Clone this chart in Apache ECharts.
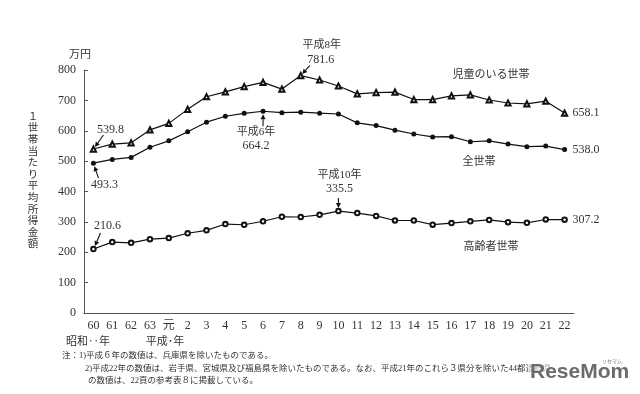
<!DOCTYPE html>
<html>
<head>
<meta charset="utf-8">
<script src="https://cdn.jsdelivr.net/npm/echarts@6/dist/echarts.min.js"></script>
<style>html,body{margin:0;padding:0;background:#fff;}#c{width:640px;height:394px;}</style>
</head>
<body>
<div id="c"></div>
<script>
const categories = ['60','61','62','63','元','2','3','4','5','6','7','8','9','10','11','12','13','14','15','16','17','18','19','20','21','22'];
const childValues = [539.8,556.0,560.2,602.8,624.3,670.4,712.0,728.0,745.5,759.4,737.2,781.6,767.1,747.4,721.4,725.8,727.2,702.7,702.6,714.9,718.0,701.2,691.4,688.5,697.3,658.1];
const allValues = [493.3,505.6,512.3,545.8,566.7,596.6,628.2,647.8,657.5,664.2,659.6,661.2,657.7,655.2,626.0,616.9,602.0,589.3,579.7,580.4,563.8,566.8,556.2,547.5,549.6,538.0];
const elderlyValues = [210.6,233.4,231.0,243.0,246.7,262.5,272.1,292.9,290.5,302.0,316.9,316.0,323.1,335.5,328.9,319.5,304.6,304.6,290.9,296.1,301.9,306.3,298.9,297.0,307.9,307.2];
const seriesNames = ['児童のいる世帯','全世帯','高齢者世帯'];
const yTicks = {min:0, max:800, interval:100};

const FONT = '"Liberation Serif", "Noto Sans CJK JP", serif';
const TXT = '#333';
const chart = echarts.init(document.getElementById('c'), null, {renderer:'canvas'});

const lineStyle = {color:'#111', width:1.2};
chart.setOption({
  backgroundColor:'#fff',
  animation:false,
  grid:{left:84, right:66, top:70, bottom:81, containLabel:false},
  xAxis:{
    type:'category', data:categories, boundaryGap:true,
    axisLine:{lineStyle:{color:'#555', width:1}},
    axisTick:{inside:true, length:4, lineStyle:{color:'#555'}},
    axisLabel:{color:TXT, fontFamily:FONT, fontSize:12, margin:7, interval:0}
  },
  yAxis:{
    type:'value', min:yTicks.min, max:yTicks.max, interval:yTicks.interval,
    splitLine:{show:false},
    axisLine:{show:true, lineStyle:{color:'#555', width:1}},
    axisTick:{show:true, inside:true, length:4, lineStyle:{color:'#555'}},
    axisLabel:{color:TXT, fontFamily:FONT, fontSize:12, margin:8}
  },
  series:[
    {name:seriesNames[0], type:'line', data:childValues, symbol:'emptyTriangle', symbolSize:5.2, lineStyle:lineStyle, itemStyle:{color:'#111', borderWidth:0.9}},
    {name:seriesNames[1], type:'line', data:allValues, symbol:'circle', symbolSize:5, lineStyle:lineStyle, itemStyle:{color:'#111'}},
    {name:seriesNames[2], type:'line', data:elderlyValues, symbol:'emptyCircle', symbolSize:4.5, lineStyle:lineStyle, itemStyle:{color:'#111', borderWidth:1.1}}
  ]
});

function px(si, idx, arr){ return chart.convertToPixel({seriesIndex:si}, [idx, arr[idx]]); }
function txt(text, x, y, opt){
  opt = opt || {};
  return {type:'text', x:x, y:y, z:100, style:Object.assign({text:text, fill:TXT, font:(opt.size||12)+'px '+FONT, align:opt.align||'center', verticalAlign:'middle'}, opt.style||{})};
}
function arrow(x1,y1,x2,y2){
  const a=Math.atan2(y2-y1,x2-x1), L=5, W=2.5;
  const bx=x2-L*Math.cos(a), by=y2-L*Math.sin(a);
  return [
    {type:'line', z:100, shape:{x1:x1,y1:y1,x2:bx,y2:by}, style:{stroke:'#111', lineWidth:1.1}},
    {type:'polygon', z:100, shape:{points:[[x2,y2],[bx-W*Math.sin(a), by+W*Math.cos(a)],[bx+W*Math.sin(a), by-W*Math.cos(a)]]}, style:{fill:'#111'}}
  ];
}
const last = categories.length-1;
const c0 = px(0,0,childValues), a0 = px(1,0,allValues), e0 = px(2,0,elderlyValues);
const c8 = px(0,11,childValues), a6 = px(1,9,allValues), e10 = px(2,13,elderlyValues);
const cL = px(0,last,childValues), aL = px(1,last,allValues), eL = px(2,last,elderlyValues);

let g = [];
g.push(txt('万円', 80, 55, {size:11}));
const yTitle = '１世帯当たり平均所得金額'.split('');
yTitle.forEach(function(ch, i){ g.push(txt(ch, 33, 117 + i*11.6, {size:10.5})); });
g.push(txt(String(childValues[0].toFixed(1)), c0[0]+17, c0[1]-19));
g = g.concat(arrow(c0[0]+10, c0[1]-14, c0[0]+1.5, c0[1]-2));
g.push(txt(String(allValues[0].toFixed(1)), a0[0]+11, a0[1]+22));
g = g.concat(arrow(a0[0]+5, a0[1]+15, a0[0]+1, a0[1]+3));
g.push(txt(String(elderlyValues[0].toFixed(1)), e0[0]+14, e0[1]-23));
g = g.concat(arrow(e0[0]+7, e0[1]-16, e0[0]+1.5, e0[1]-3));
g.push(txt('平成8年', c8[0]+21, c8[1]-30, {size:11}));
g.push(txt(childValues[11].toFixed(1), c8[0]+20, c8[1]-16));
g = g.concat(arrow(c8[0]+9, c8[1]-10, c8[0]+1.5, c8[1]-1.5));
g.push(txt('平成6年', a6[0]-7, a6[1]+21, {size:11}));
g.push(txt(allValues[9].toFixed(1), a6[0]-7, a6[1]+35));
g = g.concat(arrow(a6[0], a6[1]+15, a6[0], a6[1]+3));
g.push(txt('平成10年', e10[0]+1, e10[1]-36, {size:11}));
g.push(txt(elderlyValues[13].toFixed(1), e10[0]+1, e10[1]-22));
g = g.concat(arrow(e10[0], e10[1]-13, e10[0], e10[1]-3));
g.push(txt(seriesNames[0], 491, 75, {size:11}));
g.push(txt(seriesNames[1], 479, 162, {size:11}));
g.push(txt(seriesNames[2], 491, 247, {size:11}));
g.push(txt(childValues[last].toFixed(1), cL[0]+8, cL[1], {align:'left'}));
g.push(txt(allValues[last].toFixed(1), aL[0]+8, aL[1], {align:'left'}));
g.push(txt(elderlyValues[last].toFixed(1), eL[0]+8, eL[1], {align:'left'}));
g.push(txt('昭和‥年', 88, 342, {size:11}));
g.push(txt('平成･年', 165, 342, {size:11}));
g.push(txt('注：1)平成６年の数値は、兵庫県を除いたものである。', 62, 356, {size:8.5, align:'left'}));
g.push(txt('2)平成22年の数値は、岩手県、宮城県及び福島県を除いたものである。なお、平成21年のこれら３県分を除いた44都道府県', 85, 369, {size:8.5, align:'left'}));
g.push(txt('の数値は、22頁の参考表８に掲載している。', 88, 381, {size:8.5, align:'left'}));
g.push({type:'rect', z:110, shape:{x:528, y:359, width:100, height:26}, style:{fill:'#fff', opacity:0.6}});
g.push({type:'text', z:120, x:530, y:372, style:{text:'ReseMom', fill:'#6b6b6b', font:'bold 21px "Liberation Sans", sans-serif', align:'left', verticalAlign:'middle'}});
g.push({type:'text', z:120, x:612, y:361, style:{text:'リセマム', fill:'#6b6b6b', font:'5px "Noto Sans CJK JP"', align:'center', verticalAlign:'middle'}});
chart.setOption({graphic:g});
</script>
</body>
</html>
